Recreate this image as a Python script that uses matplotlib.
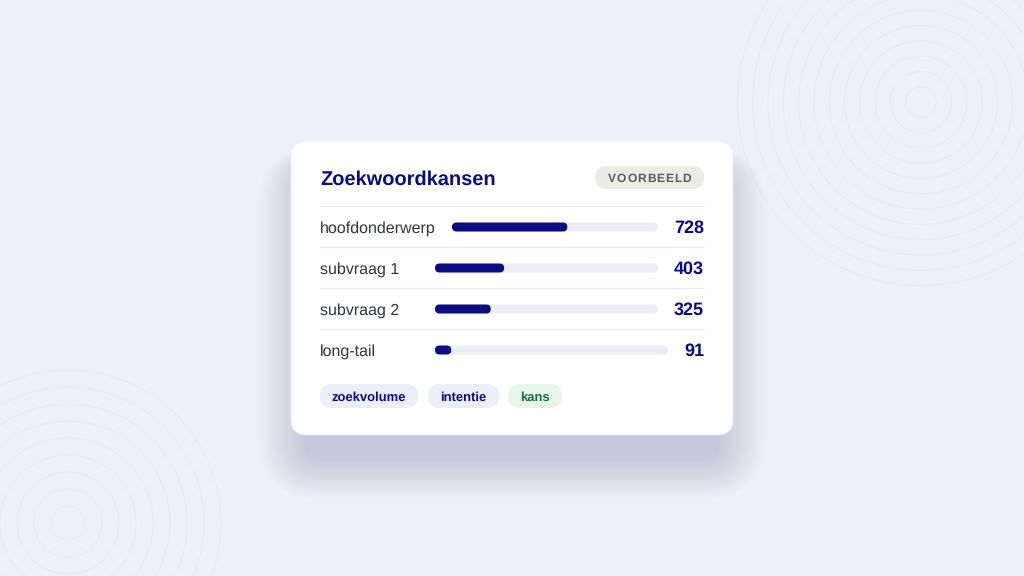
import matplotlib
matplotlib.use("Agg")
import matplotlib.pyplot as plt
from matplotlib.patches import FancyBboxPatch, Circle

# Data
title = "Zoekwoordkansen"
badge = "VOORBEELD"
labels = ["hoofdonderwerp", "subvraag 1", "subvraag 2", "long-tail"]
values = [728, 403, 325, 91]
scale_max = 1300
chips = ["zoekvolume", "intentie", "kans"]

# Colours
bg = "#eef0f9"
navy = "#0b0b82"
text_grey = "#2f3441"
track_col = "#eceef7"
sep_col = "#e8eaf2"
ring_col = "#e7e9f4"

plt.rcParams["font.family"] = ["Liberation Sans", "DejaVu Sans"]
plt.rcParams["text.hinting"] = "no_hinting"
plt.rcParams["text.hinting_factor"] = 1

fig = plt.figure(figsize=(10.24, 5.76), dpi=100, facecolor=bg)
ax = fig.add_axes([0, 0, 1, 1])
ax.set_xlim(0, 1024)
ax.set_ylim(576, 0)
ax.axis("off")
ax.set_facecolor(bg)


def pill(x, y, w, h, color, z=3):
    r = h / 2
    p = FancyBboxPatch((x, y), w, h, boxstyle=f"round,pad=0,rounding_size={r}",
                       fc=color, ec="none", zorder=z)
    ax.add_patch(p)


# Decorative rings
for i in range(1, 13):
    ax.add_patch(Circle((921, 102), 15.3 * i, fill=False, ec=ring_col, lw=0.7, zorder=0))
for i in range(1, 10):
    ax.add_patch(Circle((68, 523), 17 * i, fill=False, ec=ring_col, lw=0.7, zorder=0))

# Card shadow (stacked translucent layers)
cx, cy, cw, ch = 291, 141, 442, 294
for k in range(40):
    e = k * 1.2
    ax.add_patch(FancyBboxPatch((cx + 14 - e, cy + 24 - e * 0.4), cw - 28 + 2 * e, ch + e * 1.25,
                                boxstyle=f"round,pad=0,rounding_size={16 + e}",
                                fc="#b4b8e0", ec="none", alpha=0.0075, zorder=1))
ax.add_patch(FancyBboxPatch((cx, cy), cw, ch, boxstyle="round,pad=0,rounding_size=16",
                            fc="white", ec="#eceef7", lw=0.6, zorder=2))

# Title and badge
ax.text(320, 185, title, fontsize=14.3, fontweight="bold", color=navy,
        va="baseline", ha="left", zorder=4)
pill(595, 166, 109, 23, "#ecebe6")
renderer = fig.canvas.get_renderer()
spacing = 0.9
widths = []
for ch_ in badge:
    t = ax.text(0, 0, ch_, fontsize=8.3, fontweight="bold")
    widths.append(t.get_window_extent(renderer).width)
    t.remove()
total = sum(widths) + spacing * (len(badge) - 1)
x = 649.5 - total / 2
for ch_, w in zip(badge, widths):
    ax.text(x, 181.5, ch_, fontsize=8.3, fontweight="bold", color="#5b5c60",
            va="baseline", ha="left", zorder=4)
    x += w + spacing

# Rows
row_y = [227, 268, 309, 350]
track_x0 = [452, 435, 435, 435]
track_x1 = [658, 658, 658, 668]
bar_h = 9
for i, (lab, val) in enumerate(zip(labels, values)):
    y = row_y[i]
    ax.plot([320, 704], [y - 21, y - 21], color=sep_col, lw=0.9, zorder=3)
    ax.text(320, y + 5.5, lab, fontsize=11.4, color=text_grey, va="baseline", ha="left", zorder=4)
    tw = track_x1[i] - track_x0[i]
    pill(track_x0[i], y - bar_h / 2, tw, bar_h, track_col, z=3)
    pill(track_x0[i], y - bar_h / 2, tw * val / scale_max, bar_h, navy, z=4)
    ax.text(704, y + 6, str(val), fontsize=13.3, fontweight="bold", color=navy,
            va="baseline", ha="right", zorder=4)

# Chips
chip_x = [320, 428, 508]
chip_w = [98, 71, 54]
chip_bg = ["#eceef8", "#eceef8", "#e7f5eb"]
chip_fg = [navy, navy, "#1e6a3b"]
for lab, x0, w, b, f in zip(chips, chip_x, chip_w, chip_bg, chip_fg):
    pill(x0, 384, w, 24, b)
    ax.text(x0 + w / 2, 400.5, lab, fontsize=9.3, fontweight="bold", color=f,
            va="baseline", ha="center", zorder=4)

fig.savefig("out.png", dpi=100, facecolor=bg)
